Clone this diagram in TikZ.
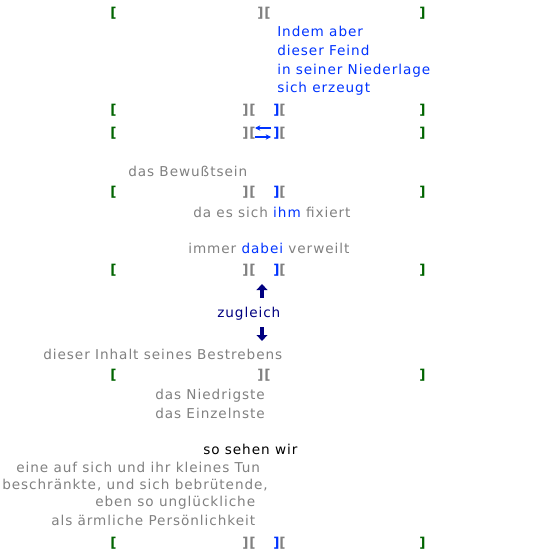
\documentclass[tikz,border=0pt]{standalone}
\usepackage{fontspec}
\setmainfont[LetterSpace=7]{DejaVu Sans}
\usetikzlibrary{arrows.meta}
\definecolor{brgreen}{RGB}{0,100,0}
\definecolor{txgray}{RGB}{128,128,128}
\definecolor{txblue}{RGB}{0,51,255}
\definecolor{txnavy}{RGB}{0,0,128}
\begin{document}
\begin{tikzpicture}[
  x=0.75pt, y=-0.75pt,
  font=\fontsize{10.2}{13.9}\selectfont,
  every node/.style={inner sep=0pt, anchor=west},
  gbr/.style={text=brgreen, font=\fontsize{10.2}{13.9}\selectfont\bfseries},
  mbr/.style={text=txgray, font=\fontsize{10.2}{13.9}\selectfont\bfseries},
  bbr/.style={text=txblue, font=\fontsize{10.2}{13.9}\selectfont\bfseries},
  grey/.style={text=txgray},
  blue/.style={text=txblue},
  thin/.style={draw=txblue, line width=0.8pt, -{Stealth[length=4pt,width=4pt]}},
  fat/.style={draw=txnavy, line width=2.4pt, -{Triangle[length=4.5pt,width=8pt]}}
]
\useasboundingbox (0,0) rectangle (541,556);
% row 1
\node[gbr] (l1) at (110,13)  {[};
\node[mbr] (m1) at (257,13)  {][};
\node[gbr] (r1) at (419,13)  {]};
\node[blue, align=left] (feind) at (277,61)
  {Indem aber\\dieser Feind\\in seiner Niederlage\\sich erzeugt};
% row 2
\node[gbr] (l2) at (110,110) {[};
\node[mbr] (m2) at (242,110) {][};
\node[bbr] (b2) at (273,110) {]};
\node[mbr] (n2) at (279,110) {[};
\node[gbr] (r2) at (419,110) {]};
% row 3
\node[gbr] (l3) at (110,133) {[};
\node[mbr] (m3) at (242,133) {][};
\node[bbr] (b3) at (273,133) {]};
\node[mbr] (n3) at (279,133) {[};
\node[gbr] (r3) at (419,133) {]};
\coordinate (aw) at (255,128);
\coordinate (ae) at (271,128);
\coordinate (bw) at (255,137);
\coordinate (be) at (271,137);
\draw[thin] (ae) -- (aw);
\draw[thin] (bw) -- (be);
\node[grey] (bew) at (128,171) {das Bewußtsein};
% row 4
\node[gbr] (l4) at (110,192) {[};
\node[mbr] (m4) at (242,192) {][};
\node[bbr] (b4) at (273,192) {]};
\node[mbr] (n4) at (279,192) {[};
\node[gbr] (r4) at (419,192) {]};
\node[grey] (fix) at (193,212) {da es sich \textcolor{txblue}{ihm} fixiert};
\node[grey] (verw) at (188,248) {immer \textcolor{txblue}{dabei} verweilt};
% row 5
\node[gbr] (l5) at (110,270) {[};
\node[mbr] (m5) at (242,270) {][};
\node[bbr] (b5) at (273,270) {]};
\node[mbr] (n5) at (279,270) {[};
\node[gbr] (r5) at (419,270) {]};
\node[text=txnavy] (zug) at (217,314) {zugleich};
\coordinate (up0) at (262,298);
\coordinate (up1) at (262,284);
\coordinate (dn0) at (262,327);
\coordinate (dn1) at (262,341);
\draw[fat] (up0) -- (up1);
\draw[fat] (dn0) -- (dn1);
\node[grey] (inh) at (43,354) {dieser Inhalt seines Bestrebens};
% row 6
\node[gbr] (l6) at (110,375) {[};
\node[mbr] (m6) at (257,375) {][};
\node[gbr] (r6) at (419,375) {]};
\node[grey, align=left] (nied) at (155,404) {das Niedrigste\\das Einzelnste};
\node (wir) at (203,449) {so sehen wir};
\node[grey] (tun)  at (16,467)  {eine auf sich und ihr kleines Tun};
\node[grey] (bes)  at (2,485)   {beschränkte, und sich bebrütende,};
\node[grey] (ungl) at (95,503)  {eben so unglückliche};
\node[grey] (pers) at (51,520)  {als ärmliche Persönlichkeit};
% row 7
\node[gbr] (l7) at (110,543) {[};
\node[mbr] (m7) at (242,543) {][};
\node[bbr] (b7) at (273,543) {]};
\node[mbr] (n7) at (279,543) {[};
\node[gbr] (r7) at (419,543) {]};
\end{tikzpicture}
\end{document}
